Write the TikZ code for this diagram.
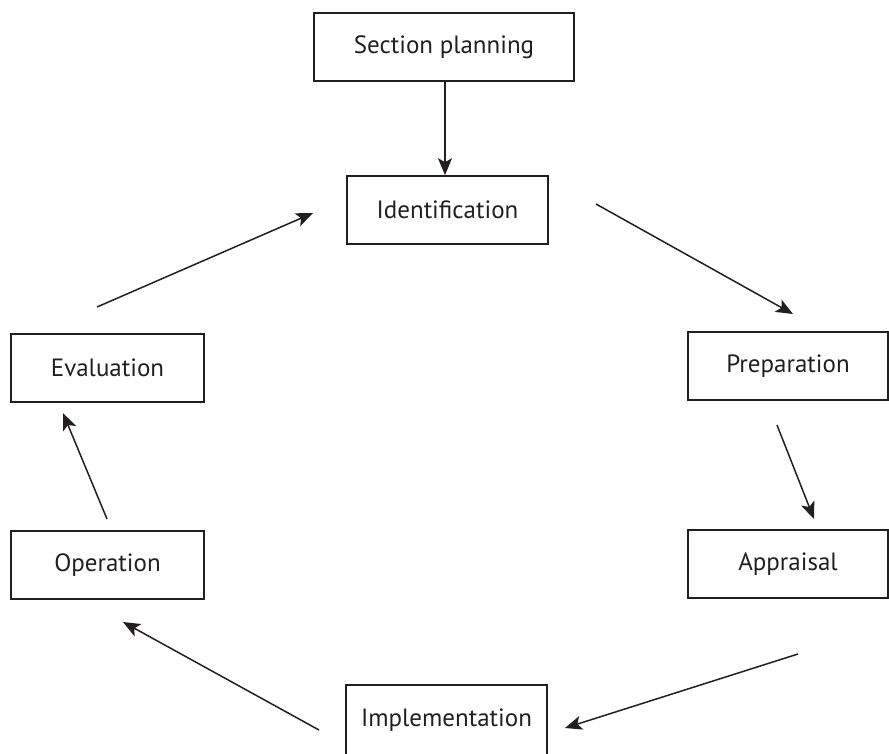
\documentclass[tikz,border=0pt]{standalone}
\usepackage{fontspec}
\setmainfont{PT Sans}
\usetikzlibrary{arrows.meta}
\definecolor{ink}{HTML}{231F20}
\begin{document}
\begin{tikzpicture}[x=1pt,y=-1pt,
  stage/.style={draw=ink, line width=1.6pt, rectangle, minimum height=68pt,
    inner sep=0pt, font=\fontsize{25}{28}\selectfont, text=ink},
  flow/.style={draw=ink, line width=1.5pt,
    -{Stealth[length=17pt,width=14pt,inset=4pt]}}]
  \useasboundingbox (0,0) rectangle (889,753);

  % stages of the cycle
  \node[stage, minimum width=260pt] (sec)   at (444,47)    {Section planning};
  \node[stage, minimum width=201pt] (ident) at (447.5,210) {Identification};
  \node[stage, minimum width=200pt] (prep)  at (788,366)   {Preparation};
  \node[stage, minimum width=200pt] (appr)  at (788,564)   {Appraisal};
  \node[stage, minimum width=201pt, minimum height=70pt] (impl) at (446.5,720) {Implementation};
  \node[stage, minimum width=193pt] (oper)  at (107.5,565) {Operation};
  \node[stage, minimum width=193pt] (eval)  at (107.5,368) {Evaluation};

  % free-standing ends of the cycle arrows
  \coordinate (idS) at (596,204);  \coordinate (prT) at (793,314);
  \coordinate (prS) at (777,425);  \coordinate (apT) at (814,519);
  \coordinate (apS) at (798,654);  \coordinate (imT) at (565,728);
  \coordinate (imS) at (319,730);  \coordinate (opT) at (123,622);
  \coordinate (opS) at (107,519);  \coordinate (evT) at (63,413);
  \coordinate (evS) at (97,307);   \coordinate (idT) at (313,213);

  \draw[flow] (sec.south -| 445,0) -- (ident.north -| 445,0);
  \draw[flow] (idS) -- (prT);
  \draw[flow] (prS) -- (apT);
  \draw[flow] (apS) -- (imT);
  \draw[flow] (imS) -- (opT);
  \draw[flow] (opS) -- (evT);
  \draw[flow] (evS) -- (idT);
\end{tikzpicture}
\end{document}
